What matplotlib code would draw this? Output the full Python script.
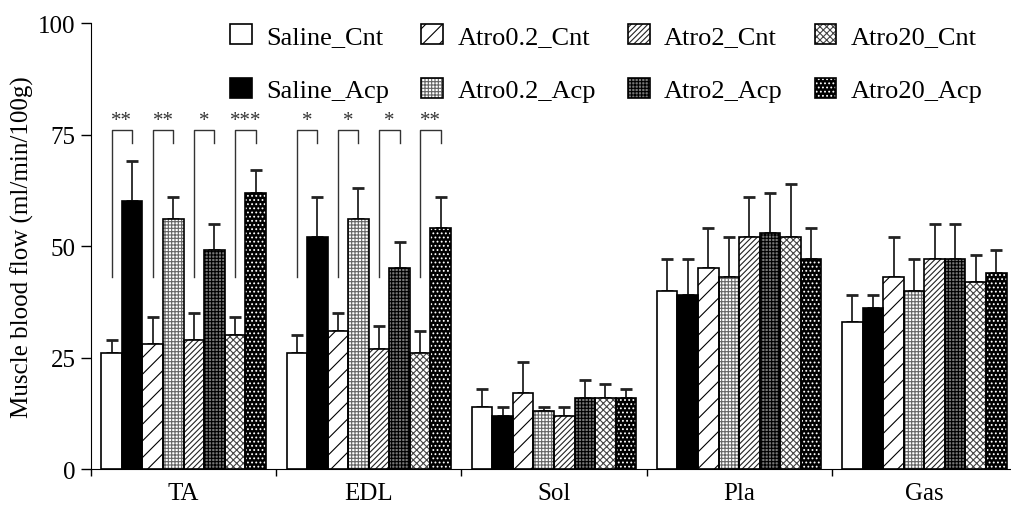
import matplotlib.pyplot as plt
from matplotlib.patches import Patch
from matplotlib.legend_handler import HandlerTuple
import numpy as np

plt.rcParams['font.family'] = ['Liberation Serif', 'DejaVu Serif']
plt.rcParams['hatch.linewidth'] = 0.8

# данные
muscles = ['TA', 'EDL', 'Sol', 'Pla', 'Gas']
groups = ['Saline_Cnt', 'Saline_Acp', 'Atro0.2_Cnt', 'Atro0.2_Acp',
          'Atro2_Cnt', 'Atro2_Acp', 'Atro20_Cnt', 'Atro20_Acp']

saline_cnt = [26, 26, 14, 40, 33]
saline_acp = [60, 52, 12, 39, 36]
atro02_cnt = [28, 31, 17, 45, 43]
atro02_acp = [56, 56, 13, 43, 40]
atro2_cnt = [29, 27, 12, 52, 47]
atro2_acp = [49, 45, 16, 53, 47]
atro20_cnt = [30, 26, 16, 52, 42]
atro20_acp = [62, 54, 16, 47, 44]

saline_cnt_err = [3, 4, 4, 7, 6]
saline_acp_err = [9, 9, 2, 8, 3]
atro02_cnt_err = [6, 4, 7, 9, 9]
atro02_acp_err = [5, 7, 1, 9, 7]
atro2_cnt_err = [6, 5, 2, 9, 8]
atro2_acp_err = [6, 6, 4, 9, 8]
atro20_cnt_err = [4, 5, 3, 12, 6]
atro20_acp_err = [5, 7, 2, 7, 5]

# значимость Cnt vs Acp (TA, EDL)
sig_ta = ['**', '**', '*', '***']
sig_edl = ['*', '*', '*', '**']

means = [saline_cnt, saline_acp, atro02_cnt, atro02_acp,
         atro2_cnt, atro2_acp, atro20_cnt, atro20_acp]
errs = [saline_cnt_err, saline_acp_err, atro02_cnt_err, atro02_acp_err,
        atro2_cnt_err, atro2_acp_err, atro20_cnt_err, atro20_acp_err]

# стиль: (заливка, цвет штриховки, штриховка)
styles = [('white', 'black', None),
          ('black', 'black', None),
          ('white', 'black', '//'),
          ('white', '#666666', '+++++'),
          ('white', '#222222', '//////'),
          ('#777777', 'black', '+++++'),
          ('white', '#444444', 'xxxxx'),
          ('black', 'white', '....')]

fig = plt.figure(figsize=(10.12, 5.06), dpi=100)
ax = fig.add_axes([0.0899, 0.0711, 0.915, 0.8814])

w = 0.111
start = (1 - 8 * w) / 2
base = np.arange(len(muscles))

handles = []
for k in range(8):
    fc, hc, hatch = styles[k]
    x = base + start + w * (k + 0.5)
    ax.errorbar(x, means[k], yerr=[np.zeros(len(muscles)), errs[k]], fmt='none',
                ecolor='#222222', elinewidth=1.3, capsize=4.5, capthick=2, zorder=1)
    ax.bar(x, means[k], w, color=fc, edgecolor=hc, hatch=hatch, linewidth=0, zorder=2)
    ax.bar(x, means[k], w, fill=False, edgecolor='black', linewidth=1.2, zorder=3)
    p1 = Patch(facecolor=fc, edgecolor=hc, hatch=hatch, linewidth=0)
    p2 = Patch(fill=False, edgecolor='black', linewidth=1.2)
    handles.append((p1, p2))

# скобки со звёздочками
for gi, sigs in [(0, sig_ta), (1, sig_edl)]:
    for j, s in enumerate(sigs):
        xl = gi + start + w * (2 * j + 0.5)
        xr = gi + start + w * (2 * j + 1.5)
        ax.plot([xl, xl, xr, xr], [43, 76, 76, 73], color='#333333', lw=1, zorder=4)
        ax.text((xl + xr) / 2, 78.2, s, ha='center', va='center', fontsize=15, color='#333333')

ax.set_xlim(0, 5)
ax.set_ylim(0, 100)
ax.set_yticks([0, 25, 50, 75, 100])
ax.set_xticks(range(6))
ax.set_xticklabels([])
ax.set_xticks(base + 0.5, minor=True)
ax.set_xticklabels(muscles, minor=True)
ax.tick_params(axis='x', which='major', length=5, width=1)
ax.tick_params(axis='x', which='minor', length=0, pad=9, labelsize=18)
ax.tick_params(axis='y', length=7, width=1, pad=4, labelsize=18)
ax.spines['top'].set_visible(False)
ax.spines['right'].set_visible(False)
ax.set_ylabel('Muscle blood flow (ml/min/100g)', fontsize=18, labelpad=3)

ax.legend(handles, groups, handler_map={tuple: HandlerTuple(ndivide=1)},
          ncol=4, frameon=False, fontsize=19, loc='upper right',
          bbox_to_anchor=(0.992, 0.993), bbox_transform=fig.transFigure,
          handlelength=0.83, handleheight=0.83, handletextpad=0.55,
          columnspacing=1.2, labelspacing=1.12, borderpad=0.3)

plt.savefig('out.png', dpi=100)
